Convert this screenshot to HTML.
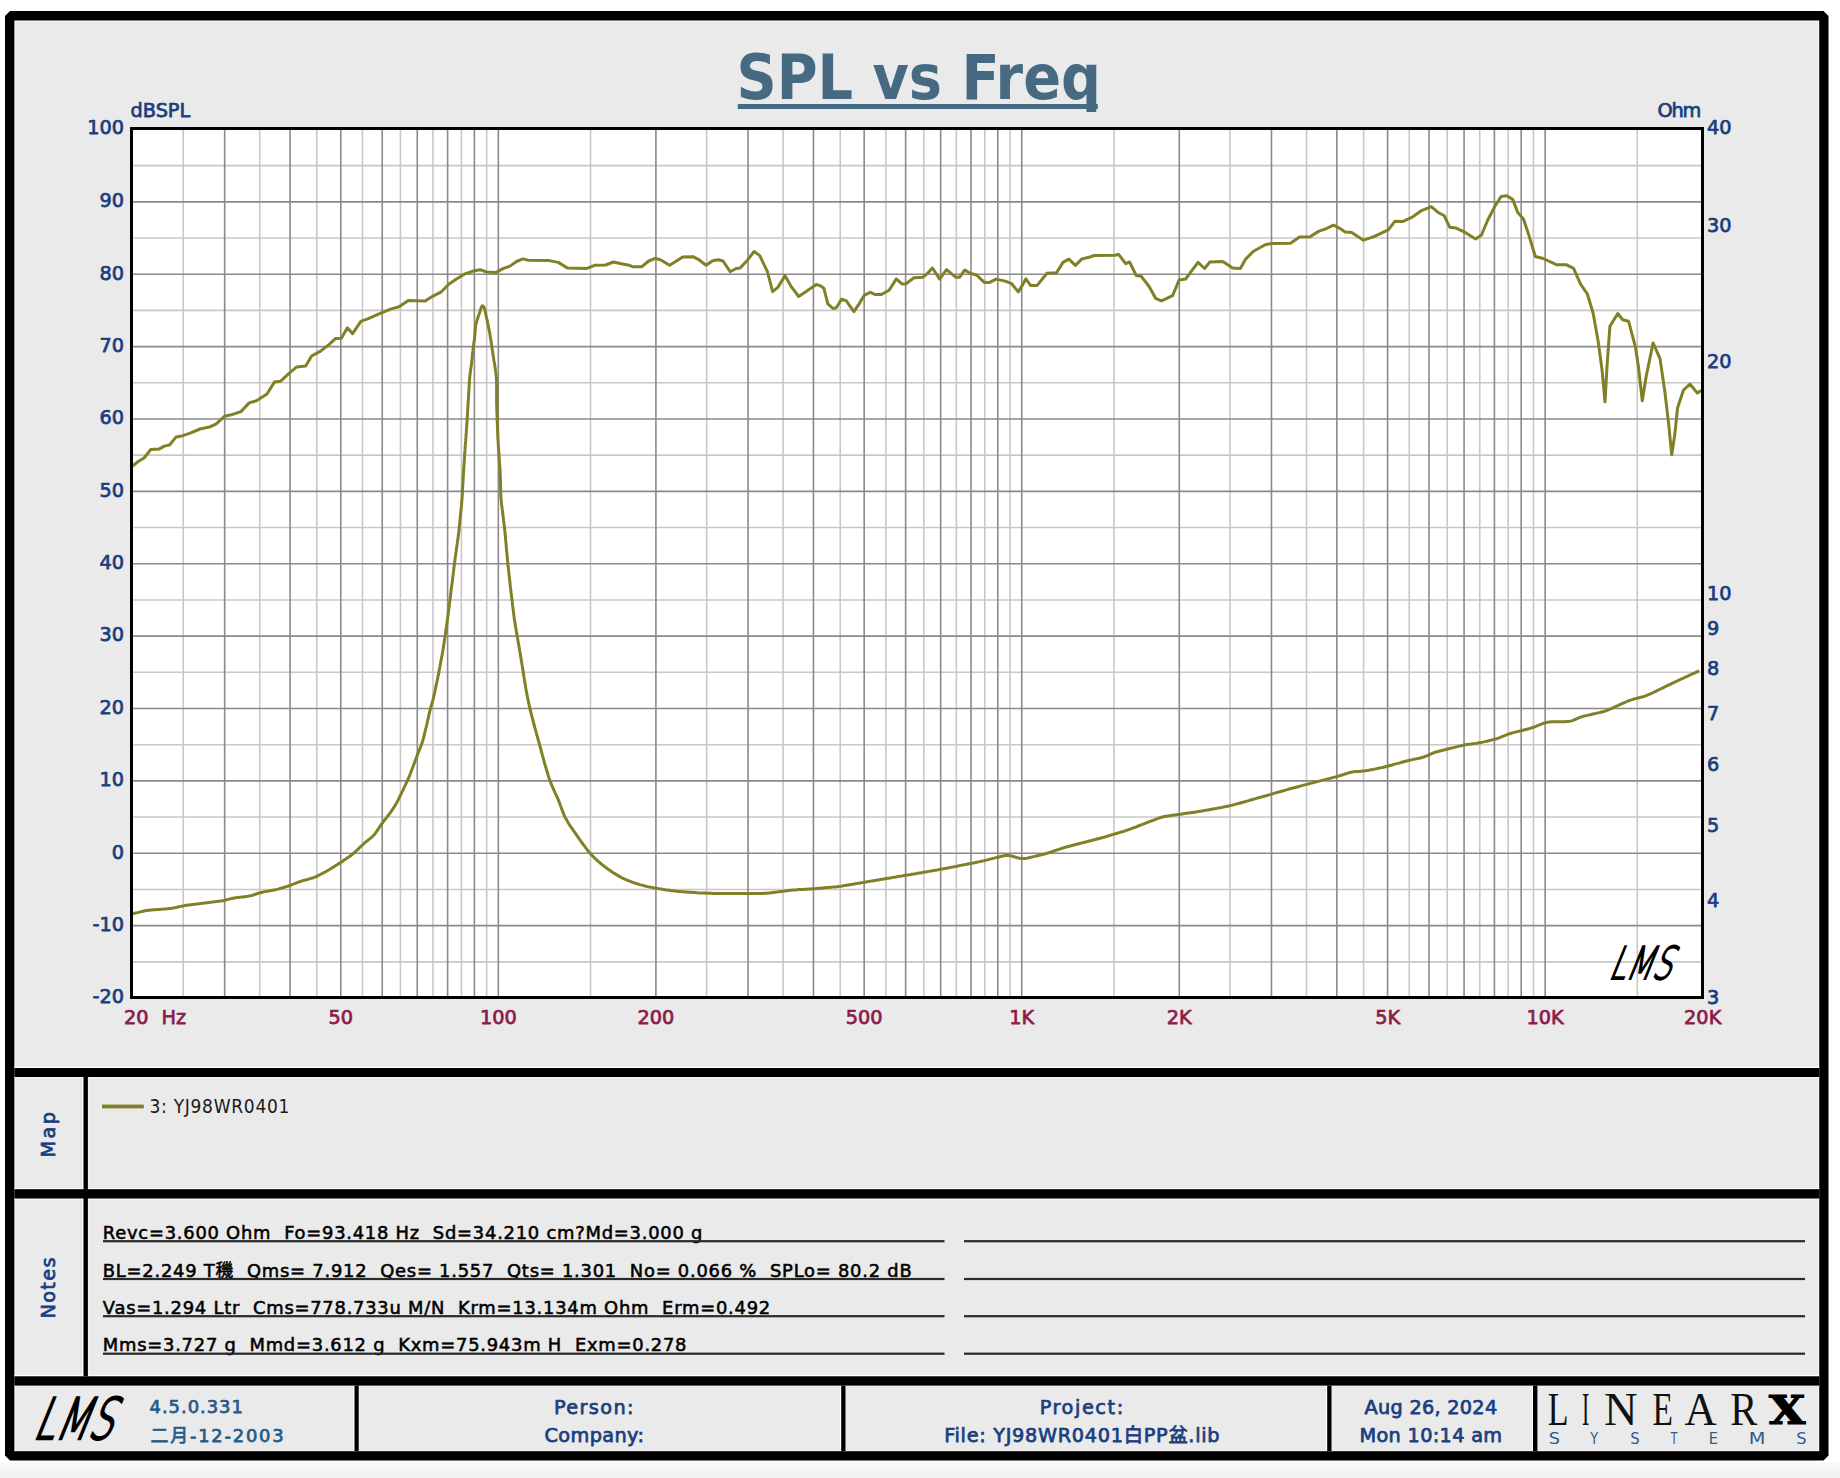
<!DOCTYPE html>
<html><head><meta charset="utf-8"><title>SPL vs Freq</title>
<style>
html,body{margin:0;padding:0;background:#fff;}
body{width:1840px;height:1478px;overflow:hidden;position:relative;}
svg{position:absolute;left:0;top:0;display:block;}
text{font-family:"DejaVu Sans","Noto Sans CJK SC",sans-serif;}
.b{font-weight:bold;font-stretch:condensed;}
.r{font-weight:normal;font-stretch:condensed;}
.n{font-weight:normal;font-stretch:normal;}
.m{font-weight:normal;font-stretch:normal;stroke-width:0.75px;stroke-linejoin:round;}
.bn{font-weight:bold;font-stretch:normal;}
.sf{font-family:"Liberation Serif",serif;}
.sfb{font-family:"Liberation Serif",serif;font-weight:bold;}
.it{font-family:"Liberation Sans",sans-serif;font-style:italic;}
.lg{font-family:"DejaVu Sans",sans-serif;font-weight:200;}
.dsb{font-family:"DejaVu Serif",serif;font-weight:bold;}
</style></head><body>
<svg width="1840" height="1478" viewBox="0 0 1840 1478">
<defs><linearGradient id="bg" x1="0" y1="0" x2="0" y2="1"><stop offset="0" stop-color="#f8f8f8"/><stop offset="1" stop-color="#f2f2f2"/></linearGradient></defs>
<rect x="0" y="0" width="1840" height="1478" fill="#fff"/>
<rect x="0" y="1462.3" width="1840" height="15.7" fill="url(#bg)"/>

<polygon points="10,11 1823.5,11 1828.5,16 1828.5,1455.4 1823.5,1460.4 10,1460.4 5,1455.4 5,16" fill="#000"/>
<rect x="14.4" y="20.5" width="1804.8" height="1430.6" fill="#fff"/>
<rect x="14.4" y="1450.1" width="1804.8" height="1" fill="#f2f2f2"/>
<rect x="15.4" y="21.5" width="1802.8" height="1428.6" fill="#eaeaea"/>
<rect x="14.4" y="1066.8" width="1804.8" height="1.2" fill="#fff"/>
<rect x="14.4" y="1077" width="1804.8" height="1.2" fill="#f1f1f1"/>
<rect x="14.4" y="1188.0" width="1804.8" height="1.2" fill="#fff"/>
<rect x="14.4" y="1198.5" width="1804.8" height="1.2" fill="#f1f1f1"/>
<rect x="14.4" y="1375.1" width="1804.8" height="1.2" fill="#fff"/>
<rect x="14.4" y="1385.6" width="1804.8" height="1.2" fill="#f1f1f1"/>
<rect x="82.3" y="1077" width="1.2" height="299.29999999999995" fill="#fff"/>
<rect x="87.9" y="1077" width="1.2" height="299.29999999999995" fill="#f1f1f1"/>
<rect x="353.3" y="1385.6" width="1.2" height="65.40000000000009" fill="#fff"/>
<rect x="358.7" y="1385.6" width="1.2" height="65.40000000000009" fill="#f1f1f1"/>
<rect x="840.0" y="1385.6" width="1.2" height="65.40000000000009" fill="#fff"/>
<rect x="845.5" y="1385.6" width="1.2" height="65.40000000000009" fill="#f1f1f1"/>
<rect x="1326.0" y="1385.6" width="1.2" height="65.40000000000009" fill="#fff"/>
<rect x="1331.5" y="1385.6" width="1.2" height="65.40000000000009" fill="#f1f1f1"/>
<rect x="1531.8" y="1385.6" width="1.2" height="65.40000000000009" fill="#fff"/>
<rect x="1537.4" y="1385.6" width="1.2" height="65.40000000000009" fill="#f1f1f1"/>
<rect x="14.4" y="1068" width="1804.8" height="9" fill="#000"/>
<rect x="14.4" y="1189.2" width="1804.8" height="9.299999999999955" fill="#000"/>
<rect x="14.4" y="1376.3" width="1804.8" height="9.299999999999955" fill="#000"/>
<rect x="83.5" y="1077" width="4.400000000000006" height="299.29999999999995" fill="#000"/>
<rect x="354.5" y="1385.6" width="4.199999999999989" height="65.40000000000009" fill="#000"/>
<rect x="841.2" y="1385.6" width="4.2999999999999545" height="65.40000000000009" fill="#000"/>
<rect x="1327.2" y="1385.6" width="4.2999999999999545" height="65.40000000000009" fill="#000"/>
<rect x="1533" y="1385.6" width="4.400000000000091" height="65.40000000000009" fill="#000"/>
<rect x="130" y="127" width="1574" height="872" fill="#fff"/>
<line x1="183.22" y1="130" x2="183.22" y2="996" stroke="#c8c8c8" stroke-width="1.6"/>
<line x1="259.71" y1="130" x2="259.71" y2="996" stroke="#c8c8c8" stroke-width="1.6"/>
<line x1="316.83" y1="130" x2="316.83" y2="996" stroke="#c8c8c8" stroke-width="1.6"/>
<line x1="362.45" y1="130" x2="362.45" y2="996" stroke="#c8c8c8" stroke-width="1.6"/>
<line x1="400.42" y1="130" x2="400.42" y2="996" stroke="#c8c8c8" stroke-width="1.6"/>
<line x1="432.95" y1="130" x2="432.95" y2="996" stroke="#c8c8c8" stroke-width="1.6"/>
<line x1="461.40" y1="130" x2="461.40" y2="996" stroke="#c8c8c8" stroke-width="1.6"/>
<line x1="486.68" y1="130" x2="486.68" y2="996" stroke="#c8c8c8" stroke-width="1.6"/>
<line x1="590.51" y1="130" x2="590.51" y2="996" stroke="#c8c8c8" stroke-width="1.6"/>
<line x1="706.62" y1="130" x2="706.62" y2="996" stroke="#c8c8c8" stroke-width="1.6"/>
<line x1="783.11" y1="130" x2="783.11" y2="996" stroke="#c8c8c8" stroke-width="1.6"/>
<line x1="840.23" y1="130" x2="840.23" y2="996" stroke="#c8c8c8" stroke-width="1.6"/>
<line x1="885.85" y1="130" x2="885.85" y2="996" stroke="#c8c8c8" stroke-width="1.6"/>
<line x1="923.82" y1="130" x2="923.82" y2="996" stroke="#c8c8c8" stroke-width="1.6"/>
<line x1="956.35" y1="130" x2="956.35" y2="996" stroke="#c8c8c8" stroke-width="1.6"/>
<line x1="984.80" y1="130" x2="984.80" y2="996" stroke="#c8c8c8" stroke-width="1.6"/>
<line x1="1010.08" y1="130" x2="1010.08" y2="996" stroke="#c8c8c8" stroke-width="1.6"/>
<line x1="1113.91" y1="130" x2="1113.91" y2="996" stroke="#c8c8c8" stroke-width="1.6"/>
<line x1="1230.02" y1="130" x2="1230.02" y2="996" stroke="#c8c8c8" stroke-width="1.6"/>
<line x1="1306.51" y1="130" x2="1306.51" y2="996" stroke="#c8c8c8" stroke-width="1.6"/>
<line x1="1363.63" y1="130" x2="1363.63" y2="996" stroke="#c8c8c8" stroke-width="1.6"/>
<line x1="1409.25" y1="130" x2="1409.25" y2="996" stroke="#c8c8c8" stroke-width="1.6"/>
<line x1="1447.22" y1="130" x2="1447.22" y2="996" stroke="#c8c8c8" stroke-width="1.6"/>
<line x1="1479.75" y1="130" x2="1479.75" y2="996" stroke="#c8c8c8" stroke-width="1.6"/>
<line x1="1508.20" y1="130" x2="1508.20" y2="996" stroke="#c8c8c8" stroke-width="1.6"/>
<line x1="1533.48" y1="130" x2="1533.48" y2="996" stroke="#c8c8c8" stroke-width="1.6"/>
<line x1="1637.31" y1="130" x2="1637.31" y2="996" stroke="#c8c8c8" stroke-width="1.6"/>
<line x1="133" y1="961.83" x2="1701" y2="961.83" stroke="#c8c8c8" stroke-width="1.6"/>
<line x1="133" y1="889.45" x2="1701" y2="889.45" stroke="#c8c8c8" stroke-width="1.6"/>
<line x1="133" y1="817.07" x2="1701" y2="817.07" stroke="#c8c8c8" stroke-width="1.6"/>
<line x1="133" y1="744.69" x2="1701" y2="744.69" stroke="#c8c8c8" stroke-width="1.6"/>
<line x1="133" y1="672.31" x2="1701" y2="672.31" stroke="#c8c8c8" stroke-width="1.6"/>
<line x1="133" y1="599.93" x2="1701" y2="599.93" stroke="#c8c8c8" stroke-width="1.6"/>
<line x1="133" y1="527.55" x2="1701" y2="527.55" stroke="#c8c8c8" stroke-width="1.6"/>
<line x1="133" y1="455.17" x2="1701" y2="455.17" stroke="#c8c8c8" stroke-width="1.6"/>
<line x1="133" y1="382.79" x2="1701" y2="382.79" stroke="#c8c8c8" stroke-width="1.6"/>
<line x1="133" y1="310.41" x2="1701" y2="310.41" stroke="#c8c8c8" stroke-width="1.6"/>
<line x1="133" y1="238.03" x2="1701" y2="238.03" stroke="#c8c8c8" stroke-width="1.6"/>
<line x1="133" y1="165.65" x2="1701" y2="165.65" stroke="#c8c8c8" stroke-width="1.6"/>
<line x1="224.67" y1="130" x2="224.67" y2="996" stroke="#8a8a8a" stroke-width="1.6"/>
<line x1="290.06" y1="130" x2="290.06" y2="996" stroke="#8a8a8a" stroke-width="1.6"/>
<line x1="340.78" y1="130" x2="340.78" y2="996" stroke="#8a8a8a" stroke-width="1.6"/>
<line x1="382.23" y1="130" x2="382.23" y2="996" stroke="#8a8a8a" stroke-width="1.6"/>
<line x1="417.27" y1="130" x2="417.27" y2="996" stroke="#8a8a8a" stroke-width="1.6"/>
<line x1="447.62" y1="130" x2="447.62" y2="996" stroke="#8a8a8a" stroke-width="1.6"/>
<line x1="474.39" y1="130" x2="474.39" y2="996" stroke="#8a8a8a" stroke-width="1.6"/>
<line x1="498.34" y1="130" x2="498.34" y2="996" stroke="#8a8a8a" stroke-width="1.6"/>
<line x1="655.90" y1="130" x2="655.90" y2="996" stroke="#8a8a8a" stroke-width="1.6"/>
<line x1="748.07" y1="130" x2="748.07" y2="996" stroke="#8a8a8a" stroke-width="1.6"/>
<line x1="813.46" y1="130" x2="813.46" y2="996" stroke="#8a8a8a" stroke-width="1.6"/>
<line x1="864.18" y1="130" x2="864.18" y2="996" stroke="#8a8a8a" stroke-width="1.6"/>
<line x1="905.63" y1="130" x2="905.63" y2="996" stroke="#8a8a8a" stroke-width="1.6"/>
<line x1="940.67" y1="130" x2="940.67" y2="996" stroke="#8a8a8a" stroke-width="1.6"/>
<line x1="971.02" y1="130" x2="971.02" y2="996" stroke="#8a8a8a" stroke-width="1.6"/>
<line x1="997.79" y1="130" x2="997.79" y2="996" stroke="#8a8a8a" stroke-width="1.6"/>
<line x1="1021.74" y1="130" x2="1021.74" y2="996" stroke="#8a8a8a" stroke-width="1.6"/>
<line x1="1179.30" y1="130" x2="1179.30" y2="996" stroke="#8a8a8a" stroke-width="1.6"/>
<line x1="1271.47" y1="130" x2="1271.47" y2="996" stroke="#8a8a8a" stroke-width="1.6"/>
<line x1="1336.86" y1="130" x2="1336.86" y2="996" stroke="#8a8a8a" stroke-width="1.6"/>
<line x1="1387.58" y1="130" x2="1387.58" y2="996" stroke="#8a8a8a" stroke-width="1.6"/>
<line x1="1429.03" y1="130" x2="1429.03" y2="996" stroke="#8a8a8a" stroke-width="1.6"/>
<line x1="1464.07" y1="130" x2="1464.07" y2="996" stroke="#8a8a8a" stroke-width="1.6"/>
<line x1="1494.42" y1="130" x2="1494.42" y2="996" stroke="#8a8a8a" stroke-width="1.6"/>
<line x1="1521.19" y1="130" x2="1521.19" y2="996" stroke="#8a8a8a" stroke-width="1.6"/>
<line x1="1545.14" y1="130" x2="1545.14" y2="996" stroke="#8a8a8a" stroke-width="1.6"/>
<line x1="133" y1="925.64" x2="1701" y2="925.64" stroke="#8a8a8a" stroke-width="1.6"/>
<line x1="133" y1="853.26" x2="1701" y2="853.26" stroke="#8a8a8a" stroke-width="1.6"/>
<line x1="133" y1="780.88" x2="1701" y2="780.88" stroke="#8a8a8a" stroke-width="1.6"/>
<line x1="133" y1="708.50" x2="1701" y2="708.50" stroke="#8a8a8a" stroke-width="1.6"/>
<line x1="133" y1="636.12" x2="1701" y2="636.12" stroke="#8a8a8a" stroke-width="1.6"/>
<line x1="133" y1="563.74" x2="1701" y2="563.74" stroke="#8a8a8a" stroke-width="1.6"/>
<line x1="133" y1="491.36" x2="1701" y2="491.36" stroke="#8a8a8a" stroke-width="1.6"/>
<line x1="133" y1="418.98" x2="1701" y2="418.98" stroke="#8a8a8a" stroke-width="1.6"/>
<line x1="133" y1="346.60" x2="1701" y2="346.60" stroke="#8a8a8a" stroke-width="1.6"/>
<line x1="133" y1="274.22" x2="1701" y2="274.22" stroke="#8a8a8a" stroke-width="1.6"/>
<line x1="133" y1="201.84" x2="1701" y2="201.84" stroke="#8a8a8a" stroke-width="1.6"/>
<polyline points="132.9,913.8 134.1,913.4 135.7,913.0 137.5,912.6 139.4,912.1 141.3,911.6 143.2,911.2 145.2,910.8 147.1,910.4 149.1,910.2 151.1,910.0 153.1,909.8 155.1,909.7 157.1,909.5 159.1,909.4 161.1,909.2 163.1,909.1 165.1,908.9 167.1,908.8 169.0,908.6 171.0,908.4 173.0,908.1 175.0,907.7 176.9,907.3 178.9,906.8 180.8,906.4 182.8,906.0 184.7,905.6 186.7,905.3 188.7,905.0 190.7,904.8 192.6,904.5 194.6,904.3 196.6,904.0 198.6,903.8 200.6,903.5 202.6,903.3 204.6,903.1 206.5,902.8 208.5,902.6 210.5,902.3 212.5,902.1 214.5,901.8 216.5,901.6 218.4,901.3 220.4,901.1 222.4,900.7 224.3,900.4 226.3,899.9 228.2,899.4 230.1,898.9 232.1,898.4 234.0,898.1 236.0,897.8 238.0,897.5 240.0,897.3 241.9,897.1 243.9,896.9 245.9,896.6 247.9,896.3 249.8,895.9 251.8,895.5 253.7,894.9 255.5,894.2 257.4,893.6 259.3,893.0 261.2,892.5 263.2,892.0 265.1,891.6 267.1,891.3 269.1,890.9 271.0,890.6 273.0,890.2 275.0,889.8 276.9,889.4 278.9,888.9 280.8,888.3 282.7,887.8 284.6,887.2 286.5,886.6 288.4,886.0 290.3,885.3 292.2,884.6 294.0,883.9 295.9,883.1 297.8,882.4 299.6,881.7 301.5,881.1 303.4,880.5 305.4,880.0 307.3,879.5 309.2,878.9 311.1,878.4 313.0,877.8 314.9,877.1 316.7,876.3 318.5,875.4 320.3,874.5 322.1,873.6 323.8,872.7 325.6,871.7 327.3,870.7 329.1,869.7 330.8,868.7 332.5,867.6 334.2,866.6 335.8,865.5 337.5,864.4 339.2,863.4 340.9,862.3 342.6,861.2 344.2,860.0 345.9,858.9 347.5,857.8 349.2,856.7 350.8,855.5 352.4,854.3 353.9,853.0 355.4,851.7 356.8,850.3 358.3,848.9 359.7,847.5 361.1,846.1 362.6,844.8 364.1,843.4 365.6,842.2 367.2,840.9 368.7,839.6 370.3,838.4 371.8,837.1 373.2,835.7 374.6,834.3 375.8,832.7 376.9,831.1 378.0,829.4 379.1,827.8 380.2,826.1 381.3,824.4 382.5,822.8 383.7,821.2 384.9,819.7 386.2,818.1 387.4,816.5 388.6,814.9 389.8,813.4 391.0,811.7 392.1,810.1 393.2,808.4 394.3,806.8 395.4,805.0 396.4,803.3 397.3,801.6 398.2,799.8 399.1,798.0 400.0,796.2 400.9,794.4 401.7,792.6 402.6,790.8 403.5,789.0 404.3,787.2 405.2,785.4 406.0,783.6 406.9,781.7 407.7,779.9 408.5,778.1 409.3,776.3 410.0,774.4 410.8,772.6 411.5,770.7 412.2,768.8 412.9,767.0 413.6,765.1 414.3,763.2 415.0,761.3 415.7,759.4 416.4,757.6 417.1,755.7 417.8,753.8 418.5,752.0 419.3,750.1 420.0,748.3 420.8,746.4 421.5,744.5 422.1,742.7 422.7,740.8 423.3,738.8 423.8,736.9 424.3,735.0 424.7,733.0 425.2,731.1 425.7,729.1 426.2,727.2 426.6,725.2 427.1,723.3 427.5,721.3 427.9,719.4 428.4,717.4 428.8,715.5 429.2,713.5 429.7,711.6 430.2,709.6 430.7,707.7 431.3,705.8 431.8,703.9 432.4,702.0 432.9,700.0 433.4,698.1 433.8,696.1 434.3,694.2 434.7,692.2 435.1,690.3 435.5,688.3 435.9,686.4 436.3,684.4 436.8,682.5 437.2,680.5 437.6,678.5 438.0,676.6 438.4,674.6 438.8,672.7 439.1,670.7 439.5,668.7 439.9,666.8 440.2,664.8 440.6,662.8 441.0,660.9 441.3,658.9 441.7,656.9 442.1,655.0 442.4,653.0 442.8,651.0 443.1,649.1 443.4,647.1 443.7,645.1 444.0,643.1 444.3,641.1 444.6,639.2 444.9,637.2 445.2,635.2 445.5,633.2 445.8,631.3 446.1,629.3 446.4,627.3 446.7,625.3 446.9,623.3 447.2,621.4 447.5,619.4 447.7,617.4 448.0,615.4 448.2,613.4 448.5,611.4 448.7,609.5 449.0,607.5 449.2,605.5 449.5,603.5 449.7,601.5 450.0,599.5 450.2,597.5 450.5,595.6 450.7,593.6 451.0,591.6 451.2,589.6 451.5,587.6 451.7,585.6 452.0,583.7 452.2,581.7 452.5,579.7 452.7,577.7 453.0,575.7 453.2,573.7 453.5,571.7 453.7,569.8 453.9,567.8 454.2,565.8 454.5,563.8 454.7,561.8 455.0,559.8 455.2,557.9 455.5,555.9 455.8,553.9 456.1,551.9 456.3,549.9 456.6,548.0 456.9,546.0 457.2,544.0 457.4,542.0 457.7,540.0 458.0,538.1 458.3,536.1 458.5,534.1 458.8,532.1 459.0,530.1 459.2,528.1 459.4,526.1 459.6,524.2 459.8,522.2 460.0,520.2 460.2,518.2 460.4,516.2 460.6,514.2 460.8,512.2 461.0,510.2 461.2,508.2 461.4,506.2 461.6,504.2 461.7,502.3 461.9,500.3 462.0,498.3 462.2,496.3 462.3,494.3 462.4,492.3 462.5,490.3 462.6,488.3 462.7,486.3 462.8,484.3 462.9,482.3 463.1,480.3 463.2,478.3 463.3,476.3 463.4,474.3 463.5,472.3 463.6,470.3 463.8,468.3 463.9,466.3 464.0,464.3 464.2,462.3 464.3,460.3 464.4,458.3 464.6,456.3 464.7,454.3 464.8,452.4 465.0,450.4 465.1,448.4 465.2,446.4 465.4,444.4 465.5,442.4 465.7,440.4 465.8,438.4 466.0,436.4 466.1,434.4 466.3,432.4 466.4,430.4 466.6,428.4 466.7,426.4 466.8,424.4 467.0,422.4 467.1,420.4 467.2,418.4 467.3,416.4 467.4,414.4 467.6,412.4 467.7,410.5 467.8,408.5 467.9,406.5 468.0,404.5 468.1,402.5 468.3,400.5 468.4,398.5 468.5,396.5 468.6,394.5 468.7,392.5 468.9,390.5 469.0,388.5 469.1,386.5 469.2,384.5 469.4,382.5 469.5,380.5 469.6,378.5 469.8,376.5 470.0,374.5 470.3,372.5 470.5,370.6 470.8,368.6 471.1,366.6 471.4,364.6 471.6,362.6 471.8,360.7 472.1,358.7 472.3,356.7 472.4,354.7 472.6,352.7 472.9,350.7 473.1,348.7 473.4,346.7 473.6,344.8 473.9,342.8 474.2,340.8 474.5,338.8 474.7,336.8 474.9,334.8 475.0,332.9 475.2,330.9 475.3,328.9 475.5,326.9 475.8,324.9 476.3,323.0 476.8,321.1 477.4,319.2 478.0,317.3 478.6,315.4 479.3,313.5 479.9,311.6 480.5,309.7 481.1,308.0 481.7,306.6 482.4,305.8 483.1,305.9 483.7,306.7 484.3,308.1 484.9,309.9 485.3,311.8 485.7,313.8 486.1,315.7 486.5,317.7 487.0,319.6 487.4,321.6 487.8,323.5 488.2,325.5 488.6,327.5 489.0,329.4 489.4,331.4 489.8,333.4 490.1,335.3 490.4,337.3 490.7,339.3 491.0,341.3 491.3,343.2 491.6,345.2 491.9,347.2 492.2,349.2 492.5,351.1 492.8,353.1 493.1,355.1 493.4,357.1 493.7,359.0 494.0,361.0 494.4,363.0 494.7,365.0 495.0,366.9 495.3,368.9 495.6,370.9 495.9,372.9 496.1,374.9 496.3,376.8 496.5,378.8 496.5,380.8 496.6,382.8 496.6,384.8 496.6,386.8 496.6,388.8 496.6,390.8 496.6,392.8 496.6,394.8 496.6,396.8 496.6,398.8 496.6,400.8 496.6,402.8 496.7,404.8 496.7,406.8 496.8,408.8 496.8,410.8 496.9,412.8 497.0,414.8 497.1,416.8 497.1,418.8 497.2,420.8 497.3,422.8 497.4,424.8 497.4,426.8 497.5,428.8 497.6,430.8 497.7,432.8 497.8,434.8 497.8,436.8 497.9,438.8 498.1,440.8 498.2,442.8 498.3,444.8 498.4,446.8 498.6,448.8 498.7,450.8 498.9,452.8 499.0,454.8 499.1,456.8 499.3,458.8 499.4,460.8 499.5,462.7 499.7,464.7 499.8,466.7 499.9,468.7 500.1,470.7 500.2,472.7 500.3,474.7 500.3,476.7 500.4,478.7 500.4,480.7 500.5,482.7 500.5,484.7 500.6,486.7 500.6,488.7 500.7,490.7 500.7,492.7 500.8,494.7 500.9,496.7 501.0,498.7 501.2,500.7 501.4,502.7 501.6,504.7 501.9,506.6 502.1,508.6 502.4,510.6 502.6,512.6 502.9,514.6 503.1,516.6 503.4,518.6 503.6,520.5 503.9,522.5 504.1,524.5 504.4,526.5 504.6,528.5 504.8,530.5 505.0,532.5 505.2,534.4 505.4,536.4 505.5,538.4 505.7,540.4 505.9,542.4 506.1,544.4 506.3,546.4 506.4,548.4 506.6,550.4 506.8,552.4 507.0,554.4 507.2,556.4 507.4,558.4 507.5,560.3 507.7,562.3 507.9,564.3 508.1,566.3 508.4,568.3 508.6,570.3 508.8,572.3 509.0,574.3 509.2,576.3 509.5,578.2 509.7,580.2 509.9,582.2 510.1,584.2 510.3,586.2 510.6,588.2 510.8,590.2 511.0,592.2 511.3,594.1 511.5,596.1 511.8,598.1 512.0,600.1 512.3,602.1 512.5,604.1 512.7,606.0 513.0,608.0 513.2,610.0 513.5,612.0 513.7,614.0 514.0,616.0 514.2,618.0 514.5,619.9 514.8,621.9 515.1,623.9 515.4,625.9 515.8,627.8 516.1,629.8 516.4,631.8 516.8,633.7 517.1,635.7 517.5,637.7 517.8,639.7 518.1,641.6 518.5,643.6 518.8,645.6 519.2,647.5 519.5,649.5 519.8,651.5 520.2,653.5 520.5,655.4 520.8,657.4 521.2,659.4 521.5,661.3 521.8,663.3 522.1,665.3 522.5,667.3 522.8,669.2 523.1,671.2 523.4,673.2 523.7,675.2 524.0,677.1 524.3,679.1 524.6,681.1 525.0,683.1 525.3,685.0 525.6,687.0 525.9,689.0 526.3,691.0 526.6,692.9 527.0,694.9 527.4,696.8 527.8,698.8 528.2,700.8 528.6,702.7 529.1,704.7 529.5,706.6 529.9,708.6 530.4,710.5 530.9,712.5 531.4,714.4 531.9,716.3 532.4,718.3 532.9,720.2 533.4,722.1 533.9,724.1 534.4,726.0 534.9,727.9 535.5,729.9 536.0,731.8 536.5,733.7 537.1,735.7 537.6,737.6 538.1,739.5 538.7,741.4 539.2,743.4 539.7,745.3 540.3,747.2 540.8,749.1 541.3,751.1 541.8,753.0 542.3,754.9 542.9,756.9 543.4,758.8 543.9,760.7 544.4,762.7 545.0,764.6 545.6,766.5 546.1,768.4 546.7,770.3 547.3,772.3 547.9,774.2 548.4,776.1 549.0,778.0 549.7,779.9 550.4,781.8 551.1,783.6 551.9,785.5 552.7,787.3 553.5,789.1 554.3,790.9 555.1,792.8 556.0,794.6 556.8,796.4 557.6,798.2 558.4,800.1 559.1,801.9 559.8,803.8 560.5,805.7 561.2,807.5 561.9,809.4 562.6,811.3 563.3,813.2 564.1,815.0 564.9,816.8 565.8,818.6 566.8,820.3 567.8,822.0 568.8,823.7 569.9,825.4 571.1,827.1 572.2,828.7 573.3,830.3 574.5,832.0 575.6,833.6 576.8,835.3 577.9,836.9 579.0,838.6 580.1,840.2 581.3,841.9 582.5,843.5 583.7,845.1 584.9,846.7 586.1,848.3 587.3,849.9 588.6,851.4 589.8,852.9 591.2,854.4 592.5,855.9 593.9,857.3 595.3,858.7 596.8,860.1 598.3,861.5 599.8,862.7 601.3,864.0 602.9,865.3 604.5,866.5 606.1,867.7 607.7,868.9 609.3,870.0 611.0,871.2 612.6,872.3 614.3,873.4 616.0,874.4 617.7,875.4 619.4,876.4 621.2,877.4 623.0,878.3 624.8,879.2 626.6,880.0 628.4,880.7 630.3,881.4 632.2,882.1 634.1,882.8 636.0,883.4 637.9,884.0 639.8,884.6 641.7,885.1 643.7,885.6 645.6,886.1 647.5,886.6 649.5,887.0 651.4,887.4 653.4,887.8 655.4,888.1 657.4,888.4 659.3,888.8 661.3,889.1 663.3,889.4 665.3,889.7 667.2,889.9 669.2,890.2 671.2,890.5 673.2,890.7 675.2,890.9 677.2,891.2 679.1,891.4 681.1,891.6 683.1,891.7 685.1,891.9 687.1,892.0 689.1,892.2 691.1,892.3 693.1,892.5 695.1,892.6 697.1,892.8 699.1,892.9 701.1,893.0 703.1,893.1 705.1,893.1 707.1,893.2 709.1,893.3 711.1,893.3 713.1,893.4 715.1,893.4 717.1,893.5 719.1,893.5 721.1,893.6 723.1,893.6 725.1,893.6 727.1,893.6 729.1,893.6 731.1,893.6 733.1,893.5 735.1,893.5 737.1,893.5 739.1,893.5 741.1,893.5 743.1,893.5 745.1,893.5 747.1,893.5 749.1,893.5 751.1,893.5 753.1,893.5 755.1,893.4 757.1,893.4 759.1,893.4 761.1,893.4 763.1,893.4 765.1,893.3 767.1,893.2 769.0,893.0 771.0,892.8 773.0,892.5 775.0,892.2 777.0,892.0 779.0,891.7 780.9,891.4 782.9,891.2 784.9,890.9 786.9,890.7 788.9,890.4 790.9,890.2 792.9,890.0 794.8,889.9 796.8,889.8 798.8,889.6 800.8,889.5 802.8,889.4 804.8,889.3 806.8,889.2 808.8,889.1 810.8,889.0 812.8,888.8 814.8,888.7 816.8,888.5 818.8,888.3 820.8,888.2 822.8,888.0 824.8,887.8 826.8,887.6 828.8,887.4 830.7,887.2 832.7,887.1 834.7,886.9 836.7,886.7 838.7,886.4 840.7,886.2 842.7,885.9 844.6,885.5 846.6,885.2 848.6,884.9 850.6,884.6 852.5,884.2 854.5,883.9 856.5,883.6 858.4,883.2 860.4,882.9 862.4,882.6 864.4,882.2 866.3,881.9 868.3,881.6 870.3,881.3 872.2,880.9 874.2,880.6 876.2,880.3 878.2,879.9 880.1,879.6 882.1,879.3 884.1,878.9 886.1,878.6 888.0,878.3 890.0,878.0 892.0,877.6 893.9,877.3 895.9,877.0 897.9,876.6 899.9,876.3 901.8,876.0 903.8,875.6 905.8,875.3 907.8,875.0 909.7,874.7 911.7,874.3 913.7,874.0 915.6,873.7 917.6,873.3 919.6,873.0 921.6,872.7 923.5,872.3 925.5,872.0 927.5,871.6 929.4,871.3 931.4,870.9 933.4,870.6 935.3,870.2 937.3,869.9 939.3,869.5 941.2,869.2 943.2,868.8 945.2,868.4 947.2,868.1 949.1,867.7 951.1,867.3 953.0,867.0 955.0,866.6 957.0,866.2 958.9,865.8 960.9,865.4 962.9,865.0 964.8,864.6 966.8,864.2 968.7,863.8 970.7,863.5 972.7,863.1 974.6,862.7 976.6,862.3 978.5,861.9 980.5,861.5 982.5,861.0 984.4,860.6 986.3,860.1 988.3,859.6 990.2,859.1 992.2,858.6 994.1,858.1 996.0,857.6 998.0,857.2 999.9,856.7 1001.8,856.2 1003.8,855.8 1005.7,855.5 1007.6,855.5 1009.6,855.6 1011.5,856.0 1013.4,856.5 1015.3,857.1 1017.2,857.7 1019.1,858.1 1021.0,858.5 1023.0,858.6 1024.9,858.5 1026.9,858.2 1028.8,857.8 1030.7,857.3 1032.7,856.9 1034.6,856.4 1036.6,856.0 1038.5,855.5 1040.5,855.1 1042.4,854.6 1044.4,854.1 1046.3,853.5 1048.2,852.9 1050.1,852.3 1052.0,851.7 1053.9,851.0 1055.8,850.4 1057.7,849.8 1059.6,849.1 1061.5,848.5 1063.4,847.9 1065.3,847.3 1067.2,846.8 1069.1,846.3 1071.1,845.8 1073.0,845.3 1074.9,844.8 1076.9,844.3 1078.8,843.8 1080.8,843.3 1082.7,842.8 1084.6,842.3 1086.6,841.8 1088.5,841.3 1090.4,840.8 1092.4,840.3 1094.3,839.8 1096.3,839.3 1098.2,838.8 1100.1,838.3 1102.0,837.7 1104.0,837.2 1105.9,836.6 1107.8,836.0 1109.7,835.5 1111.6,834.9 1113.5,834.3 1115.5,833.8 1117.4,833.2 1119.3,832.6 1121.2,832.0 1123.1,831.5 1125.0,830.9 1126.9,830.2 1128.8,829.6 1130.7,828.9 1132.6,828.2 1134.4,827.5 1136.3,826.8 1138.2,826.0 1140.0,825.3 1141.9,824.6 1143.8,823.9 1145.6,823.2 1147.5,822.4 1149.4,821.7 1151.2,821.0 1153.1,820.3 1155.0,819.6 1156.8,818.9 1158.7,818.2 1160.6,817.5 1162.5,817.0 1164.4,816.5 1166.4,816.2 1168.4,815.9 1170.4,815.6 1172.3,815.3 1174.3,815.0 1176.3,814.7 1178.3,814.4 1180.3,814.2 1182.2,813.9 1184.2,813.6 1186.2,813.3 1188.2,813.0 1190.2,812.8 1192.1,812.5 1194.1,812.2 1196.1,811.9 1198.1,811.6 1200.0,811.3 1202.0,811.0 1204.0,810.6 1206.0,810.3 1207.9,809.9 1209.9,809.6 1211.9,809.2 1213.8,808.8 1215.8,808.5 1217.8,808.1 1219.7,807.7 1221.7,807.4 1223.7,807.0 1225.6,806.6 1227.6,806.3 1229.5,805.8 1231.5,805.4 1233.4,804.9 1235.3,804.4 1237.3,803.8 1239.2,803.3 1241.1,802.7 1243.0,802.2 1245.0,801.7 1246.9,801.1 1248.8,800.6 1250.7,800.0 1252.7,799.5 1254.6,798.9 1256.5,798.4 1258.4,797.8 1260.4,797.3 1262.3,796.8 1264.2,796.2 1266.1,795.7 1268.1,795.1 1270.0,794.6 1271.9,794.0 1273.8,793.4 1275.7,792.9 1277.7,792.3 1279.6,791.8 1281.5,791.2 1283.4,790.7 1285.4,790.1 1287.3,789.6 1289.2,789.0 1291.1,788.5 1293.1,788.0 1295.0,787.5 1296.9,787.0 1298.9,786.5 1300.8,785.9 1302.7,785.4 1304.7,784.9 1306.6,784.4 1308.5,783.9 1310.5,783.4 1312.4,782.9 1314.3,782.4 1316.3,781.9 1318.2,781.4 1320.2,780.9 1322.1,780.4 1324.0,779.9 1326.0,779.4 1327.9,778.9 1329.9,778.4 1331.8,777.9 1333.7,777.4 1335.6,776.9 1337.6,776.3 1339.5,775.8 1341.4,775.2 1343.3,774.6 1345.2,774.0 1347.1,773.4 1349.0,772.8 1351.0,772.3 1352.9,771.9 1354.9,771.6 1356.8,771.5 1358.8,771.4 1360.8,771.3 1362.8,771.1 1364.8,770.9 1366.7,770.5 1368.7,770.2 1370.7,769.8 1372.6,769.5 1374.6,769.1 1376.6,768.7 1378.5,768.3 1380.5,767.9 1382.4,767.5 1384.4,767.0 1386.3,766.5 1388.2,766.0 1390.2,765.5 1392.1,765.0 1394.0,764.4 1396.0,763.9 1397.9,763.4 1399.8,762.9 1401.8,762.3 1403.7,761.8 1405.6,761.3 1407.6,760.8 1409.5,760.3 1411.4,759.9 1413.4,759.4 1415.3,759.0 1417.3,758.6 1419.3,758.2 1421.2,757.7 1423.1,757.2 1425.0,756.5 1426.8,755.8 1428.7,755.0 1430.5,754.2 1432.3,753.4 1434.1,752.7 1436.0,752.0 1437.9,751.5 1439.9,751.0 1441.8,750.5 1443.8,750.0 1445.7,749.5 1447.6,749.0 1449.6,748.5 1451.5,748.0 1453.5,747.6 1455.4,747.1 1457.3,746.6 1459.3,746.1 1461.2,745.7 1463.2,745.2 1465.1,744.8 1467.1,744.5 1469.1,744.2 1471.1,744.0 1473.0,743.7 1475.0,743.5 1477.0,743.2 1479.0,742.8 1480.9,742.5 1482.9,742.1 1484.8,741.6 1486.8,741.2 1488.7,740.7 1490.7,740.3 1492.6,739.8 1494.6,739.3 1496.5,738.7 1498.4,738.1 1500.2,737.4 1502.1,736.6 1503.9,735.9 1505.8,735.1 1507.6,734.4 1509.5,733.8 1511.4,733.2 1513.4,732.6 1515.3,732.1 1517.2,731.6 1519.2,731.1 1521.1,730.7 1523.0,730.2 1525.0,729.7 1526.9,729.2 1528.9,728.7 1530.8,728.1 1532.7,727.5 1534.5,726.8 1536.4,726.1 1538.3,725.3 1540.1,724.6 1542.0,723.9 1543.8,723.2 1545.7,722.6 1547.6,722.2 1549.6,721.9 1551.6,721.8 1553.6,721.7 1555.6,721.7 1557.6,721.7 1559.6,721.7 1561.6,721.7 1563.6,721.7 1565.5,721.7 1567.5,721.5 1569.5,721.3 1571.4,720.9 1573.2,720.3 1575.1,719.5 1576.9,718.7 1578.7,717.9 1580.5,717.2 1582.4,716.6 1584.3,716.0 1586.3,715.6 1588.2,715.1 1590.2,714.7 1592.1,714.2 1594.1,713.8 1596.0,713.4 1598.0,712.9 1599.9,712.5 1601.9,712.0 1603.8,711.5 1605.7,710.9 1607.6,710.2 1609.4,709.4 1611.2,708.6 1613.0,707.8 1614.9,706.9 1616.7,706.1 1618.5,705.3 1620.3,704.4 1622.1,703.6 1624.0,702.8 1625.8,702.0 1627.6,701.2 1629.5,700.5 1631.4,699.9 1633.3,699.3 1635.2,698.8 1637.2,698.3 1639.1,697.8 1641.0,697.3 1643.0,696.8 1644.8,696.2 1646.7,695.5 1648.5,694.7 1650.4,693.9 1652.2,693.0 1654.0,692.2 1655.8,691.3 1657.6,690.4 1659.4,689.5 1661.2,688.7 1663.0,687.8 1664.8,686.9 1666.6,686.0 1668.4,685.2 1670.2,684.3 1672.0,683.4 1673.8,682.6 1675.6,681.7 1677.4,680.9 1679.2,680.0 1681.0,679.2 1682.8,678.4 1684.7,677.5 1686.5,676.7 1688.3,675.9 1690.1,675.0 1691.9,674.2 1693.7,673.4 1695.4,672.6 1696.8,672.0 1697.9,671.4 1699.2,670.9" fill="none" stroke="#808026" stroke-width="3" stroke-linejoin="round"/>
<polyline points="132.2,466.2 138.9,461.0 144.1,458.0 150.8,449.4 159.0,449.1 164.2,446.1 169.5,445.0 176.2,436.9 182.9,435.7 189.5,433.4 200.0,429.0 210.4,426.7 216.3,423.8 224.5,416.3 231.2,414.8 240.9,411.6 249.1,402.9 256.5,400.7 267.0,394.0 274.4,382.1 280.4,381.3 289.3,373.1 296.7,366.9 305.7,366.0 311.6,356.0 320.6,351.1 329.5,344.1 335.4,338.6 341.4,338.2 347.4,327.7 352.6,333.7 360.8,321.3 367.8,318.9 379.6,313.7 391.3,308.9 399.1,306.8 408.3,300.6 425.2,301.0 433.0,296.1 440.9,292.2 448.7,284.3 456.5,279.1 464.3,274.2 473.5,271.0 480.0,269.7 486.5,272.0 495.6,272.6 503.5,268.4 510.0,266.1 516.5,261.5 523.0,258.9 528.3,260.2 549.1,260.6 558.3,262.4 567.4,268.0 587.0,268.4 595.2,265.2 605.7,265.0 613.5,262.0 621.3,263.7 629.1,265.2 633.0,266.8 641.5,266.8 648.7,261.0 655.2,258.4 660.4,259.7 669.6,265.2 676.1,261.3 682.6,257.1 693.0,256.7 698.3,259.3 706.1,265.2 712.6,260.7 718.5,259.7 723.0,261.0 730.2,271.7 736.1,268.5 740.0,268.1 746.5,261.3 754.1,251.5 759.6,255.4 767.4,271.7 772.6,291.6 777.8,287.4 785.0,275.7 790.9,286.1 798.7,296.5 806.5,291.3 816.3,284.5 820.0,285.6 823.9,288.3 827.8,303.9 833.0,308.5 836.3,307.8 841.5,299.3 846.1,300.6 853.9,311.7 859.1,303.9 864.3,295.4 870.2,292.2 874.8,294.5 881.3,294.5 889.1,290.2 896.3,278.9 902.2,284.1 906.1,283.7 913.9,277.8 923.0,277.2 928.3,272.6 932.4,268.0 939.7,279.1 946.5,269.7 955.6,277.2 959.6,277.2 964.8,270.0 970.0,273.3 976.5,275.0 984.3,282.4 989.6,282.4 996.1,279.1 1005.2,281.1 1011.7,283.7 1018.3,291.9 1022.2,285.6 1025.8,278.9 1030.6,285.4 1037.2,285.4 1047.0,273.3 1056.5,272.8 1063.0,262.4 1068.9,259.1 1075.4,265.4 1082.0,258.9 1089.1,257.2 1094.3,255.5 1115.2,255.2 1118.5,254.2 1125.6,263.7 1129.6,262.0 1136.1,275.4 1141.3,276.3 1149.1,286.5 1155.6,298.3 1161.5,300.9 1172.6,295.6 1179.1,280.0 1185.6,279.0 1192.2,270.2 1198.0,262.4 1204.6,268.5 1209.8,262.0 1222.8,261.5 1232.6,268.0 1240.4,268.5 1245.6,259.1 1253.5,251.3 1265.2,244.8 1271.7,243.5 1290.4,243.2 1299.6,237.0 1310.0,236.7 1319.1,231.1 1325.7,228.9 1333.5,225.2 1340.0,228.5 1345.2,232.0 1351.7,232.4 1363.5,240.2 1373.9,236.7 1388.3,229.8 1394.8,221.3 1402.6,221.6 1411.7,217.4 1420.9,210.9 1431.3,206.7 1437.8,212.2 1444.3,215.8 1449.6,227.2 1456.1,228.1 1465.2,232.4 1475.6,238.9 1481.5,235.0 1487.4,220.7 1495.2,205.7 1501.1,196.5 1506.9,195.8 1512.8,199.6 1517.7,212.4 1523.6,219.3 1529.4,236.9 1535.3,256.5 1543.2,258.5 1556.9,264.8 1566.7,264.8 1573.6,268.3 1580.5,284.0 1587.3,293.8 1593.2,313.5 1598.1,340.9 1602.1,370.4 1605.0,401.8 1607.0,366.5 1609.9,326.2 1617.8,313.5 1622.7,319.7 1628.6,321.3 1635.4,346.8 1638.4,366.5 1642.3,400.8 1646.2,376.3 1653.1,342.9 1660.0,358.6 1664.9,392.0 1668.8,425.3 1671.7,454.8 1674.7,435.2 1677.6,407.7 1683.5,390.0 1690.0,384.1 1697.3,393.0 1701.2,390.4" fill="none" stroke="#808026" stroke-width="3" stroke-linejoin="round"/>
<rect x="131.5" y="128.5" width="1571" height="869" fill="none" stroke="#000" stroke-width="3"/>
<text class="lg" x="0" y="0" font-size="45" fill="#000" stroke="#000" stroke-width="2" transform="translate(1607.8,978.5) skewX(-22)" textLength="62" lengthAdjust="spacingAndGlyphs">LMS</text>
<text class="b" x="736.5" y="98.5" font-size="62" fill="#476a83">SPL vs Freq</text>
<rect x="737.8" y="104" width="360" height="5" fill="#476a83"/>
<text class="m" x="130.5" y="117" font-size="19.3" fill="#1a3e80" stroke="#1a3e80">dBSPL</text>
<text class="m" x="1700.2" y="117" font-size="19.3" fill="#1a3e80" stroke="#1a3e80" text-anchor="end" letter-spacing="-1.2">Ohm</text>
<text class="m" x="124" y="1003.3" font-size="19.3" fill="#1a3e80" stroke="#1a3e80" text-anchor="end">-20</text>
<text class="m" x="124" y="930.9" font-size="19.3" fill="#1a3e80" stroke="#1a3e80" text-anchor="end">-10</text>
<text class="m" x="124" y="858.6" font-size="19.3" fill="#1a3e80" stroke="#1a3e80" text-anchor="end">0</text>
<text class="m" x="124" y="786.2" font-size="19.3" fill="#1a3e80" stroke="#1a3e80" text-anchor="end">10</text>
<text class="m" x="124" y="713.8" font-size="19.3" fill="#1a3e80" stroke="#1a3e80" text-anchor="end">20</text>
<text class="m" x="124" y="641.4" font-size="19.3" fill="#1a3e80" stroke="#1a3e80" text-anchor="end">30</text>
<text class="m" x="124" y="569.0" font-size="19.3" fill="#1a3e80" stroke="#1a3e80" text-anchor="end">40</text>
<text class="m" x="124" y="496.7" font-size="19.3" fill="#1a3e80" stroke="#1a3e80" text-anchor="end">50</text>
<text class="m" x="124" y="424.3" font-size="19.3" fill="#1a3e80" stroke="#1a3e80" text-anchor="end">60</text>
<text class="m" x="124" y="351.9" font-size="19.3" fill="#1a3e80" stroke="#1a3e80" text-anchor="end">70</text>
<text class="m" x="124" y="279.5" font-size="19.3" fill="#1a3e80" stroke="#1a3e80" text-anchor="end">80</text>
<text class="m" x="124" y="207.1" font-size="19.3" fill="#1a3e80" stroke="#1a3e80" text-anchor="end">90</text>
<text class="m" x="124" y="134.0" font-size="19.3" fill="#1a3e80" stroke="#1a3e80" text-anchor="end">100</text>
<text class="m" x="1707" y="134.0" font-size="19.3" fill="#1a3e80" stroke="#1a3e80">40</text>
<text class="m" x="1707" y="231.5" font-size="19.3" fill="#1a3e80" stroke="#1a3e80">30</text>
<text class="m" x="1707" y="367.5" font-size="19.3" fill="#1a3e80" stroke="#1a3e80">20</text>
<text class="m" x="1707" y="599.9" font-size="19.3" fill="#1a3e80" stroke="#1a3e80">10</text>
<text class="m" x="1707" y="635.2" font-size="19.3" fill="#1a3e80" stroke="#1a3e80">9</text>
<text class="m" x="1707" y="674.7" font-size="19.3" fill="#1a3e80" stroke="#1a3e80">8</text>
<text class="m" x="1707" y="719.5" font-size="19.3" fill="#1a3e80" stroke="#1a3e80">7</text>
<text class="m" x="1707" y="771.2" font-size="19.3" fill="#1a3e80" stroke="#1a3e80">6</text>
<text class="m" x="1707" y="832.3" font-size="19.3" fill="#1a3e80" stroke="#1a3e80">5</text>
<text class="m" x="1707" y="907.2" font-size="19.3" fill="#1a3e80" stroke="#1a3e80">4</text>
<text class="m" x="1707" y="1003.6" font-size="19.3" fill="#1a3e80" stroke="#1a3e80">3</text>
<text class="m" x="124" y="1023.7" font-size="19.3" fill="#8c1c4c" stroke="#8c1c4c">20</text>
<text class="m" x="161.5" y="1023.7" font-size="19.3" fill="#8c1c4c" stroke="#8c1c4c">Hz</text>
<text class="m" x="340.8" y="1023.7" font-size="19.3" fill="#8c1c4c" stroke="#8c1c4c" text-anchor="middle">50</text>
<text class="m" x="498.3" y="1023.7" font-size="19.3" fill="#8c1c4c" stroke="#8c1c4c" text-anchor="middle">100</text>
<text class="m" x="655.9" y="1023.7" font-size="19.3" fill="#8c1c4c" stroke="#8c1c4c" text-anchor="middle">200</text>
<text class="m" x="864.2" y="1023.7" font-size="19.3" fill="#8c1c4c" stroke="#8c1c4c" text-anchor="middle">500</text>
<text class="m" x="1021.7" y="1023.7" font-size="19.3" fill="#8c1c4c" stroke="#8c1c4c" text-anchor="middle">1K</text>
<text class="m" x="1179.3" y="1023.7" font-size="19.3" fill="#8c1c4c" stroke="#8c1c4c" text-anchor="middle">2K</text>
<text class="m" x="1387.6" y="1023.7" font-size="19.3" fill="#8c1c4c" stroke="#8c1c4c" text-anchor="middle">5K</text>
<text class="m" x="1545.1" y="1023.7" font-size="19.3" fill="#8c1c4c" stroke="#8c1c4c" text-anchor="middle">10K</text>
<text class="m" x="1702.7" y="1023.7" font-size="19.3" fill="#8c1c4c" stroke="#8c1c4c" text-anchor="middle">20K</text>
<text class="m" transform="translate(55,1133.5) rotate(-90)" font-size="19.3" fill="#1a3e80" stroke="#1a3e80" text-anchor="middle" letter-spacing="2.5">Map</text>
<rect x="102" y="1104.6" width="41.8" height="3.8" fill="#808026"/>
<text class="r" x="149.5" y="1113.1" font-size="19" fill="#1a1a1a" letter-spacing="0.7">3: YJ98WR0401</text>
<text class="m" transform="translate(55,1287.4) rotate(-90)" font-size="19.3" fill="#1a3e80" stroke="#1a3e80" text-anchor="middle" letter-spacing="1.35">Notes</text>
<text class="n" x="102.8" y="1238.7" font-size="17.9" fill="#000" stroke="#000" stroke-width="0.55" xml:space="preserve" letter-spacing="0.76">Revc=3.600 Ohm  Fo=93.418 Hz  Sd=34.210 cm?Md=3.000 g</text>
<rect x="103" y="1240.1" width="841.5" height="2.2" fill="#2a2a2a"/>
<rect x="964" y="1240.1" width="841" height="2.2" fill="#2a2a2a"/>
<text class="n" x="102.8" y="1276.5" font-size="17.9" fill="#000" stroke="#000" stroke-width="0.55" xml:space="preserve" letter-spacing="0.76">BL=2.249 T穖  Qms= 7.912  Qes= 1.557  Qts= 1.301  No= 0.066 %  SPLo= 80.2 dB</text>
<rect x="103" y="1277.9" width="841.5" height="2.2" fill="#2a2a2a"/>
<rect x="964" y="1277.9" width="841" height="2.2" fill="#2a2a2a"/>
<text class="n" x="102.8" y="1313.7" font-size="17.9" fill="#000" stroke="#000" stroke-width="0.55" xml:space="preserve" letter-spacing="0.76">Vas=1.294 Ltr  Cms=778.733u M/N  Krm=13.134m Ohm  Erm=0.492</text>
<rect x="103" y="1315.1" width="841.5" height="2.2" fill="#2a2a2a"/>
<rect x="964" y="1315.1" width="841" height="2.2" fill="#2a2a2a"/>
<text class="n" x="102.8" y="1351.2" font-size="17.9" fill="#000" stroke="#000" stroke-width="0.55" xml:space="preserve" letter-spacing="0.76">Mms=3.727 g  Mmd=3.612 g  Kxm=75.943m H  Exm=0.278</text>
<rect x="103" y="1352.6" width="841.5" height="2.2" fill="#2a2a2a"/>
<rect x="964" y="1352.6" width="841" height="2.2" fill="#2a2a2a"/>
<text class="lg" x="0" y="0" font-size="57" fill="#000" stroke="#000" stroke-width="2.6" transform="translate(32,1438.5) skewX(-22)" textLength="79" lengthAdjust="spacingAndGlyphs">LMS</text>
<text class="m" x="149.5" y="1413.3" font-size="17.9" fill="#265a8a" stroke="#265a8a" letter-spacing="1">4.5.0.331</text>
<text class="m" x="150.5" y="1441.6" font-size="17.9" fill="#265a8a" stroke="#265a8a" letter-spacing="1.8">二月-12-2003</text>
<text class="m" x="594.4" y="1414" font-size="19.3" fill="#1a3e80" stroke="#1a3e80" text-anchor="middle" letter-spacing="1.38">Person:</text>
<text class="m" x="594.4" y="1442" font-size="19.3" fill="#1a3e80" stroke="#1a3e80" text-anchor="middle" letter-spacing="0.36">Company:</text>
<text class="m" x="1082.2" y="1414" font-size="19.3" fill="#1a3e80" stroke="#1a3e80" text-anchor="middle" letter-spacing="1.57">Project:</text>
<text class="m" x="1082.2" y="1442" font-size="19.3" fill="#1a3e80" stroke="#1a3e80" text-anchor="middle" letter-spacing="0.7">File: YJ98WR0401白PP盆.lib</text>
<text class="m" x="1431" y="1414" font-size="19.3" fill="#1a3e80" stroke="#1a3e80" text-anchor="middle" letter-spacing="0.27">Aug 26, 2024</text>
<text class="m" x="1431" y="1442" font-size="19.3" fill="#1a3e80" stroke="#1a3e80" text-anchor="middle" letter-spacing="0.32">Mon 10:14 am</text>
<text class="sf" x="1547.87" y="1425" font-size="45.5" fill="#111" textLength="20.78" lengthAdjust="spacingAndGlyphs">L</text>
<text class="sf" x="1581.92" y="1425" font-size="45.5" fill="#111" textLength="7.23" lengthAdjust="spacingAndGlyphs">I</text>
<text class="sf" x="1603.98" y="1425" font-size="45.5" fill="#111" textLength="33.51" lengthAdjust="spacingAndGlyphs">N</text>
<text class="sf" x="1652.48" y="1425" font-size="45.5" fill="#111" textLength="20.44" lengthAdjust="spacingAndGlyphs">E</text>
<text class="sf" x="1684.6" y="1425" font-size="45.5" fill="#111" textLength="32.06" lengthAdjust="spacingAndGlyphs">A</text>
<text class="sf" x="1730.37" y="1425" font-size="45.5" fill="#111" textLength="27.04" lengthAdjust="spacingAndGlyphs">R</text>
<text class="dsb" x="1769" y="1424.3" font-size="38.9" fill="#000" stroke="#000" stroke-width="1.2" textLength="36.3" lengthAdjust="spacingAndGlyphs">X</text>
<text x="1548.8" y="1443.6" font-size="15.5" fill="#2d5b8c" textLength="11.2" lengthAdjust="spacingAndGlyphs">S</text>
<text x="1590.3" y="1443.6" font-size="15.5" fill="#2d5b8c" textLength="7.83" lengthAdjust="spacingAndGlyphs">Y</text>
<text x="1630.35" y="1443.6" font-size="15.5" fill="#2d5b8c" textLength="9.35" lengthAdjust="spacingAndGlyphs">S</text>
<text x="1670.7" y="1443.6" font-size="15.5" fill="#2d5b8c" textLength="6.63" lengthAdjust="spacingAndGlyphs">T</text>
<text x="1708.75" y="1443.6" font-size="15.5" fill="#2d5b8c" textLength="9.3" lengthAdjust="spacingAndGlyphs">E</text>
<text x="1748.75" y="1443.6" font-size="15.5" fill="#2d5b8c" textLength="16.65" lengthAdjust="spacingAndGlyphs">M</text>
<text x="1796.15" y="1443.6" font-size="15.5" fill="#2d5b8c" textLength="10.33" lengthAdjust="spacingAndGlyphs">S</text>
</svg></body></html>
